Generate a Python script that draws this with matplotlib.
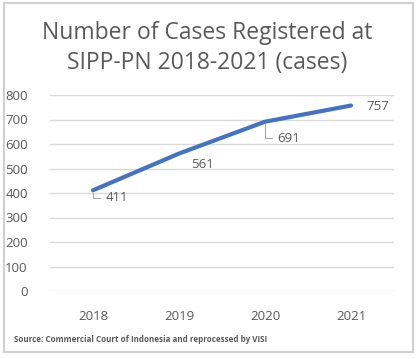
import matplotlib
matplotlib.use("Agg")
import matplotlib.pyplot as plt
from matplotlib.patches import Rectangle

years = ['2018', '2019', '2020', '2021']
cases = [411, 561, 691, 757]
yticks = [0, 100, 200, 300, 400, 500, 600, 700, 800]

plt.rcParams['font.family'] = ['Open Sans', 'DejaVu Sans']
grey = '#595959'

fig = plt.figure(figsize=(4.17, 3.59), dpi=100)
fig.patch.set_facecolor('white')
fig.patches.append(Rectangle((4/417, 7/359), 409/417, 349/359, transform=fig.transFigure,
                             fill=False, edgecolor='#d0d0d0', lw=1.5))

ax = fig.add_axes([50/417, 68/359, 344/417, 196/359])
x = list(range(len(years)))
ax.plot(x, cases, color='#4472C4', lw=3, solid_capstyle='round')
ax.set_xlim(-0.5, 3.5)
ax.set_ylim(0, 800)
ax.set_yticks(yticks)
ax.set_xticks(x)
ax.set_xticklabels(years)
ax.grid(axis='y', color='#d9d9d9', lw=1)
ax.set_axisbelow(True)
for s in ax.spines.values():
    s.set_visible(False)
ax.tick_params(length=0, colors=grey, labelsize=9.5)
ax.tick_params(axis='x', pad=14)
ax.tick_params(axis='y', pad=16)

# data labels (offsets in points from each point)
offsets = [(9, -5.5), (9, -8), (9, -12), (11, -1)]
for i, (v, off) in enumerate(zip(cases, offsets)):
    leader = i in (0, 2)
    ax.annotate(str(v), (i, v), xytext=off, textcoords='offset points',
                ha='left', va='center', fontsize=9.5, color=grey,
                arrowprops=dict(arrowstyle='-', color='#a6a6a6', lw=0.8,
                                connectionstyle='angle,angleA=0,angleB=90',
                                shrinkA=2, shrinkB=2) if leader else None)

fig.text(207/417, 1 - 48/359, 'Number of Cases Registered at\nSIPP-PN 2018-2021 (cases)',
         ha='center', va='center', fontsize=16.5, color=grey, linespacing=1.35)
fig.text(14/417, 1 - 339/359, 'Source: Commercial Court of Indonesia and reprocessed by VISI',
         ha='left', va='center', fontsize=5.8, fontweight='bold', color=grey)

fig.savefig('out.png', dpi=100)
